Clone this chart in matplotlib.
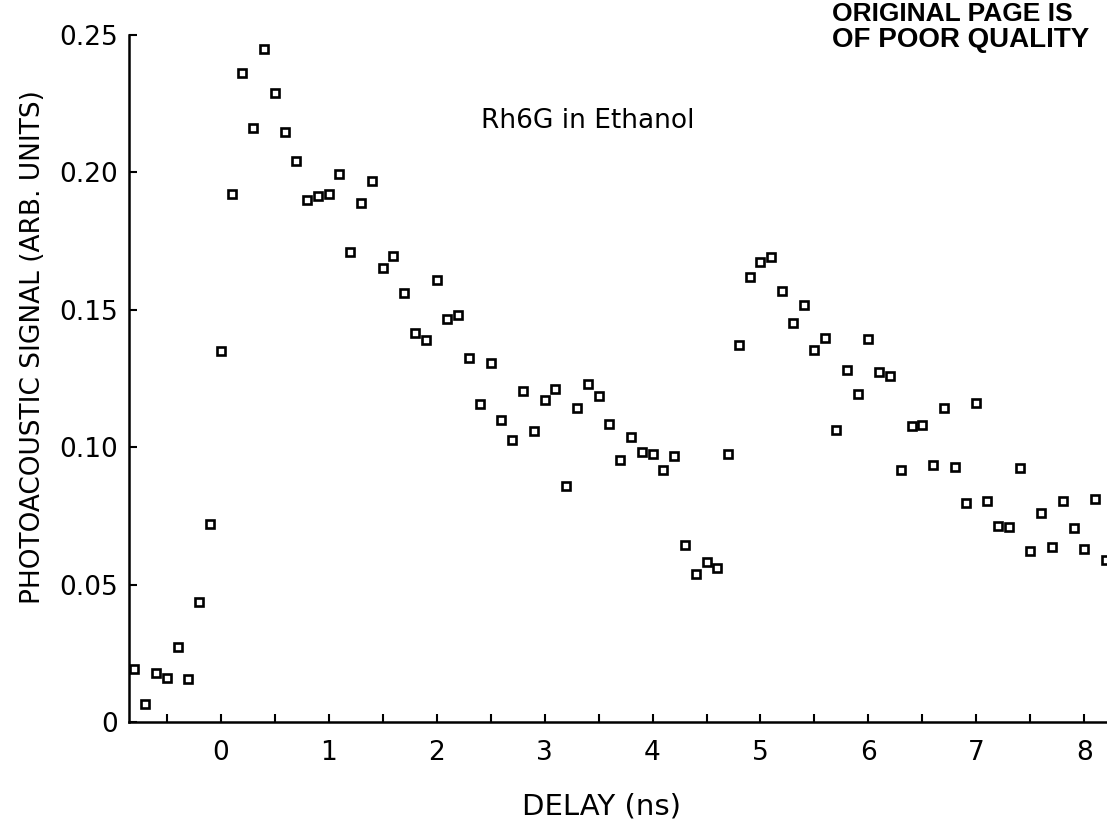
import matplotlib.pyplot as plt
from matplotlib.ticker import MultipleLocator

# delay (ns) and photoacoustic signal for Rh6G in ethanol
delay = [-0.8, -0.7, -0.6, -0.5, -0.4, -0.3, -0.2, -0.1,
         0.0, 0.1, 0.2, 0.3, 0.4, 0.5, 0.6, 0.7, 0.8, 0.9,
         1.0, 1.1, 1.2, 1.3, 1.4, 1.5, 1.6, 1.7, 1.8, 1.9,
         2.0, 2.1, 2.2, 2.3, 2.4, 2.5, 2.6, 2.7, 2.8, 2.9,
         3.0, 3.1, 3.2, 3.3, 3.4, 3.5, 3.6, 3.7, 3.8, 3.9,
         4.0, 4.1, 4.2, 4.3, 4.4, 4.5, 4.6, 4.7, 4.8, 4.9,
         5.0, 5.1, 5.2, 5.3, 5.4, 5.5, 5.6, 5.7, 5.8, 5.9,
         6.0, 6.1, 6.2, 6.3, 6.4, 6.5, 6.6, 6.7, 6.8, 6.9,
         7.0, 7.1, 7.2, 7.3, 7.4, 7.5, 7.6, 7.7, 7.8, 7.9,
         8.0, 8.1, 8.2]
signal = [0.0193, 0.0064, 0.0180, 0.0160, 0.0273, 0.0156, 0.0438, 0.0720,
          0.1350, 0.1919, 0.2362, 0.2159, 0.2448, 0.2286, 0.2144, 0.2039, 0.1897, 0.1912,
          0.1921, 0.1992, 0.1711, 0.1888, 0.1968, 0.1651, 0.1694, 0.1561, 0.1414, 0.1390,
          0.1606, 0.1467, 0.1481, 0.1324, 0.1155, 0.1305, 0.1100, 0.1026, 0.1205, 0.1057,
          0.1170, 0.1211, 0.0860, 0.1142, 0.1228, 0.1187, 0.1084, 0.0952, 0.1038, 0.0981,
          0.0975, 0.0915, 0.0969, 0.0644, 0.0539, 0.0581, 0.0560, 0.0974, 0.1370, 0.1620,
          0.1672, 0.1692, 0.1566, 0.1450, 0.1515, 0.1353, 0.1396, 0.1061, 0.1280, 0.1193,
          0.1393, 0.1272, 0.1257, 0.0918, 0.1077, 0.1081, 0.0933, 0.1143, 0.0928, 0.0798,
          0.1159, 0.0805, 0.0712, 0.0710, 0.0923, 0.0621, 0.0761, 0.0635, 0.0802, 0.0704,
          0.0628, 0.0812, 0.0588]

y_ticks = [0, 0.05, 0.10, 0.15, 0.20, 0.25]
y_tick_labels = ['0', '0.05', '0.10', '0.15', '0.20', '0.25']

plt.rcParams['font.family'] = 'DejaVu Sans'

fig = plt.figure(figsize=(11.07, 8.25), dpi=100)
ax = fig.add_axes([0.1165, 0.1248, 0.8835, 0.8333])

ax.plot(delay, signal, linestyle='none', marker='s', ms=6,
        mfc='white', mec='black', mew=1.9)

ax.set_xlim(-0.85, 8.21)
ax.set_ylim(0, 0.25)

ax.spines['top'].set_visible(False)
ax.spines['right'].set_visible(False)
ax.spines['left'].set_linewidth(1.8)
ax.spines['bottom'].set_linewidth(1.8)

ax.xaxis.set_major_locator(MultipleLocator(1))
ax.xaxis.set_minor_locator(MultipleLocator(0.5))
ax.set_yticks(y_ticks)
ax.set_yticklabels(y_tick_labels)

ax.tick_params(axis='both', which='both', direction='in', width=1.5,
               length=6, labelsize=19)
ax.tick_params(axis='x', pad=13)
ax.tick_params(axis='y', pad=8)

ax.set_xlabel('DELAY (ns)', fontsize=21)
ax.xaxis.set_label_coords(0.483, -0.103)
ax.set_ylabel('PHOTOACOUSTIC SIGNAL (ARB. UNITS)', fontsize=19)
ax.yaxis.set_label_coords(-0.085, 0.545)

fig.text(588 / 1107, 1 - 121 / 825, 'Rh6G in Ethanol', ha='center',
         va='center', fontsize=19)

# stamp in the top right corner
fig.text(832 / 1107, 1 - 21 / 825, 'ORIGINAL PAGE IS', family='Liberation Sans',
         fontweight='bold', fontsize=19, va='baseline')
fig.text(832 / 1107, 1 - 47 / 825, 'OF POOR QUALITY', family='Liberation Sans',
         fontweight='bold', fontsize=20, va='baseline')

fig.savefig('out.png', dpi=100)
